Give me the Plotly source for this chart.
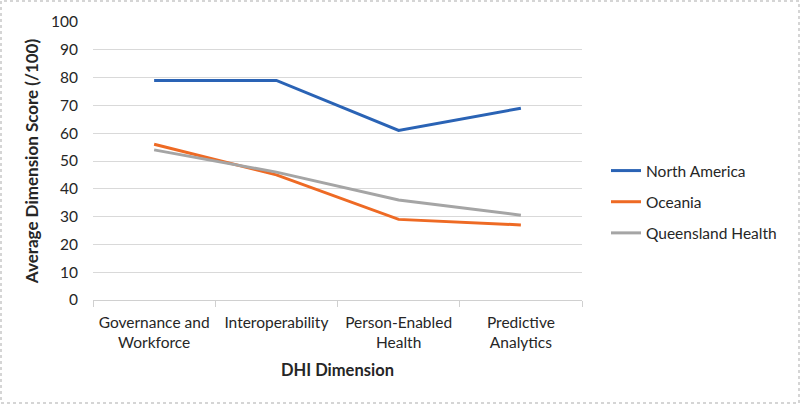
import plotly.graph_objects as go

categories = ["Governance and<br>Workforce", "Interoperability", "Person-Enabled<br>Health", "Predictive<br>Analytics"]
north_america = [79, 79, 61, 69]
oceania = [56, 45, 29, 27]
queensland = [54, 46, 36, 30.5]
series = [("North America", north_america, "#2A63B5"),
          ("Oceania", oceania, "#EE6A24"),
          ("Queensland Health", queensland, "#A5A5A5")]

FONT = "Lato, Open Sans, sans-serif"
fig = go.Figure()
for i, (name, vals, col) in enumerate(series):
    fig.add_trace(go.Scatter(x=categories, y=vals, mode="lines", name=name,
                             legendgroup=str(i),
                             line=dict(color=col, width=3)))

L, R, T, B = 93, 218, 22, 104
W, H = 800, 404
pw, ph = W - L - R, H - T - B

def px(x):
    return (x - L) / pw

def py(y):
    return (H - B - y) / ph

fig.add_shape(type="rect", xref="paper", yref="paper",
              x0=px(1), x1=px(799), y0=py(403), y1=py(1),
              line=dict(color="#C8C8C8", width=1.5, dash="dot"))

fig.update_layout(
    width=W, height=H,
    margin=dict(l=L, r=R, t=T, b=B),
    paper_bgcolor="white", plot_bgcolor="white",
    font=dict(family=FONT, size=15, color="#262626"),
    showlegend=True,
    legend=dict(x=px(606), xanchor="left", y=py(154), yanchor="top",
                traceorder="grouped", tracegroupgap=8,
                font=dict(size=15.5, color="#262626")),
    xaxis=dict(showgrid=False, showline=True, linecolor="#D0D0D0", linewidth=1,
               range=[-0.5, 3.5],
               ticks="outside", tickson="boundaries", ticklen=6, tickcolor="#D0D0D0",
               ticklabelstandoff=8,
               tickfont=dict(size=15.5),
               title=dict(text="<b>DHI Dimension</b>", font=dict(size=16.5), standoff=14)),
    yaxis=dict(range=[0, 100], dtick=10, showgrid=True, gridcolor="#D9D9D9",
               zeroline=False, showline=False, ticks="", ticklabelstandoff=14,
               tickfont=dict(size=15.5),
               title=dict(text="<b>Average Dimension Score (/100)</b>", font=dict(size=17), standoff=8)),
)

fig.write_html("out.html", config={"displayModeBar": False},
               post_script="document.body.style.margin='0';")
